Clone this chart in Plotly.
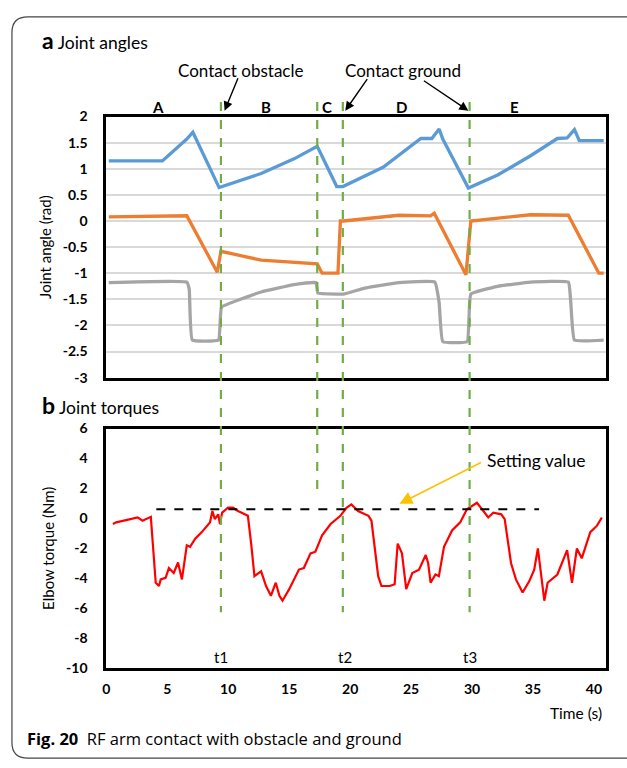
import plotly.graph_objects as go

# ---------------- data ----------------
blue_t = [0.2, 4.6, 6.6, 7.1, 9.25, 12.7, 15.4, 17.3, 18.9, 19.4, 22.7, 24.3, 25.8, 26.7, 27.3, 27.6, 29.7, 32.1, 34.8, 37.0, 37.8, 38.4, 38.8, 40.8]
blue_v = [1.15, 1.15, 1.57, 1.70, 0.64, 0.91, 1.19, 1.43, 0.66, 0.66, 1.03, 1.31, 1.58, 1.58, 1.76, 1.57, 0.63, 0.88, 1.25, 1.58, 1.59, 1.75, 1.54, 1.54]

orange_t = [0.2, 6.6, 9.1, 9.4, 12.7, 17.3, 17.7, 19.0, 19.2, 19.45, 24.0, 26.6, 26.9, 29.5, 29.9, 34.8, 37.9, 40.4, 40.8]
orange_v = [0.08, 0.10, -0.98, -0.58, -0.75, -0.82, -1.0, -1.0, 0.0, 0.0, 0.11, 0.10, 0.15, -1.03, 0.0, 0.12, 0.11, -1.0, -1.0]

gray_t = [0.2, 6.6, 6.8, 7.05, 9.2, 9.45, 11.0, 12.7, 15.4, 17.2, 17.35, 19.0, 19.45, 21.3, 24.0, 26.95, 27.3, 27.6, 29.6, 29.9, 32.1, 34.8, 37.9, 38.1, 38.4, 40.8]
gray_v = [-1.18, -1.17, -1.31, -2.28, -2.28, -1.65, -1.50, -1.36, -1.22, -1.18, -1.38, -1.40, -1.40, -1.28, -1.18, -1.17, -1.56, -2.31, -2.31, -1.40, -1.25, -1.17, -1.17, -1.56, -2.28, -2.28]

torque_t = [0.54, 0.81, 1.62, 2.57, 2.97, 3.65, 4.05, 4.32, 4.46, 4.86, 5.13, 5.53, 5.88, 6.2, 6.6, 6.87, 7.29, 7.83, 8.5, 8.7,
            8.9, 9.18, 9.32, 9.5, 9.98, 10.39, 10.8, 11.61, 11.88, 12.15, 12.7, 13.1, 13.5, 13.9, 14.2, 14.45, 15.0, 15.8, 16.2, 16.75,
            17.15, 17.7, 18.4, 19.2, 19.7, 20.1, 20.65, 21.5, 21.75, 22.3, 22.57, 23.25, 23.65, 23.9, 24.25, 24.6, 25.1, 25.65, 26.2, 26.4,
            26.6, 27.0, 27.28, 27.7, 28.36, 29.03, 29.58, 30.4, 30.93, 31.33, 31.74, 32.4, 32.68, 33.2, 33.6, 34.15, 34.7, 35.1, 35.4, 35.66,
            35.93, 36.2, 37.0, 37.8, 38.2, 38.6, 39.0, 39.7, 40.25, 40.65]
torque_v = [-0.38, -0.27, -0.12, 0.06, -0.16, 0.10, -4.3, -4.52, -4.08, -3.97, -3.32, -3.65, -2.95, -4.08, -1.8, -1.9, -1.36, -0.92, -0.27, 0.49,
            -0.05, 0.27, -0.38, 0.38, 0.71, 0.71, 0.49, 0.17, -1.69, -3.86, -3.54, -4.52, -5.17, -4.3, -5.17, -5.5, -4.73, -3.42, -3.32, -2.34,
            -2.23, -1.14, -0.38, 0.17, 0.71, 0.93, 0.49, 0.17, -0.16, -3.86, -4.52, -4.52, -4.4, -1.69, -2.34, -4.73, -3.65, -3.43, -2.45, -3.0,
            -4.3, -3.75, -3.86, -1.9, -0.81, -0.27, 0.6, 1.04, 0.49, 0.06, 0.38, 0.27, -0.06, -3.0, -4.08, -4.95, -4.19, -3.43, -2.01, -3.65,
            -5.5, -4.3, -3.75, -2.12, -4.3, -2.01, -2.67, -0.92, -0.49, 0.06]

setting_t = [4.1, 35.5]
setting_v = [0.6, 0.6]

events_t = [9.4, 17.3, 19.4, 29.8]
phase_labels = ["A", "B", "C", "D", "E"]
phase_t = [4.2, 13.1, 18.1, 24.2, 33.5]
t_labels = ["t1", "t2", "t3"]
t_label_t = [9.4, 19.6, 29.8]

x_ticks = [0, 5, 10, 15, 20, 25, 30, 35, 40]
angle_ticks = [2, 1.5, 1, 0.5, 0, -0.5, -1, -1.5, -2, -2.5, -3]
torque_ticks = [6, 4, 2, 0, -2, -4, -6, -8, -10]

# ---------------- layout helpers ----------------
W, H = 627, 768
def px(x):
    return x / W
def py(y):
    return 1 - y / H

FONT = "Lato"
fig = go.Figure()

fig.add_trace(go.Scatter(x=blue_t, y=blue_v, mode="lines", line=dict(color="#5B9BD5", width=3.3), xaxis="x", yaxis="y"))
fig.add_trace(go.Scatter(x=orange_t, y=orange_v, mode="lines", line=dict(color="#ED7D31", width=3.3), xaxis="x", yaxis="y"))
fig.add_trace(go.Scatter(x=gray_t, y=gray_v, mode="lines", line=dict(color="#A5A5A5", width=3.3, shape="spline", smoothing=0.3), xaxis="x", yaxis="y"))
fig.add_trace(go.Scatter(x=torque_t, y=torque_v, mode="lines", line=dict(color="#FF0000", width=2.2), xaxis="x2", yaxis="y2"))
fig.add_trace(go.Scatter(x=setting_t, y=setting_v, mode="lines", line=dict(color="black", width=2, dash="dash"), xaxis="x2", yaxis="y2"))

def fmt(v):
    return "%g" % v

xdom = [px(103), px(606)]
fig.update_layout(
    width=W, height=H, margin=dict(l=0, r=0, t=0, b=0),
    paper_bgcolor="white", plot_bgcolor="white", showlegend=False,
    font=dict(family=FONT, color="black"),
    xaxis=dict(domain=xdom, range=[0, 41], showticklabels=False, showgrid=False, zeroline=False,
               showline=True, linecolor="black", linewidth=3, mirror=True, anchor="y"),
    yaxis=dict(domain=[py(377), py(110)], range=[-3, 2], tickvals=angle_ticks, ticktext=[fmt(v) for v in angle_ticks],
               showgrid=True, gridcolor="#D9D9D9", gridwidth=1.5, zeroline=False,
               showline=True, linecolor="black", linewidth=3, mirror=True, anchor="x",
               tickfont=dict(size=14, family=FONT, weight="bold"), ticklabelstandoff=13,
               title=dict(text="Joint angle (rad)", font=dict(size=15, family=FONT), standoff=8)),
    xaxis2=dict(domain=xdom, range=[0, 41], tickvals=x_ticks, ticktext=[fmt(v) for v in x_ticks], showgrid=False, zeroline=False,
                showline=True, linecolor="black", linewidth=3, mirror=True, anchor="y2",
                tickfont=dict(size=14, family=FONT, weight="bold"), ticklabelstandoff=6),
    yaxis2=dict(domain=[py(674), py(429)], range=[-10, 6], tickvals=torque_ticks, ticktext=[fmt(v) for v in torque_ticks],
                showgrid=False, zeroline=False,
                showline=True, linecolor="black", linewidth=3, mirror=True, anchor="x2",
                tickfont=dict(size=14, family=FONT, weight="bold"), ticklabelstandoff=13,
                title=dict(text="Elbow torque (Nm)", font=dict(size=15, family=FONT), standoff=8)),
)

# green event lines
ends = [617, 495, 617, 617]
for t, e in zip(events_t, ends):
    fig.add_shape(type="line", xref="x", yref="paper", x0=t, x1=t, y0=py(95), y1=py(e),
                  line=dict(color="#70AD47", width=2.2, dash="dash"), layer="above")

# outer rounded frame
r = 16
path = (f"M {px(640)},{py(8)} L {px(8 + r)},{py(8)} Q {px(8)},{py(8)} {px(8)},{py(8 + r)} "
        f"L {px(8)},{py(766 - r)} Q {px(8)},{py(766)} {px(8 + r)},{py(766)} L {px(640)},{py(766)}")
fig.add_shape(type="path", xref="paper", yref="paper", path=path, line=dict(color="#444444", width=1.2))

def txt(x, y, text, size, xref="paper", xanchor="center", family=FONT):
    return dict(xref=xref, yref="paper", x=x, y=py(y), xanchor=xanchor, yanchor="middle", showarrow=False,
                text=text, font=dict(size=size, family=family))

ann = []
ann.append(txt(px(36), 32, "<b><span style='font-size:23px'>a</span></b> Joint angles", 17.5, xanchor="left"))
ann.append(txt(px(36), 405, "<b><span style='font-size:23px'>b</span></b> Joint torques", 17.5, xanchor="left"))
for lab, t in zip(phase_labels, phase_t):
    ann.append(txt(t, 100, f"<b>{lab}</b>", 15, xref="x"))
for lab, t in zip(t_labels, t_label_t):
    ann.append(txt(t, 663, lab, 15, xref="x2"))
ann.append(txt(px(238), 63, "Contact obstacle", 17))
ann.append(txt(px(402), 63, "Contact ground", 17))
# arrows
arrow_specs = [(events_t[0] + 0.3, 104, 14, -34), (events_t[2] + 0.2, 104, 23, -33), (events_t[3] - 0.1, 104, -46, -31)]
for t, yy, ax, ay in arrow_specs:
    ann.append(dict(xref="x", yref="paper", x=t, y=py(yy), ax=ax, ay=ay, showarrow=True, text="",
                    arrowhead=2, arrowsize=1.3, arrowwidth=1.4, arrowcolor="black"))
ann.append(txt(px(484), 462, "Setting value", 17.5, xanchor="left"))
ann.append(dict(xref="paper", yref="paper", x=px(398), y=py(506), ax=83, ay=-42, showarrow=True, text="",
                arrowhead=2, arrowsize=1.6, arrowwidth=1.6, arrowcolor="#FFC000"))
ann.append(txt(px(604), 720, "Time (s)", 15.5, xanchor="right"))
ann.append(txt(px(21), 746, "<b>Fig. 20</b>  RF arm contact with obstacle and ground", 16.5, xanchor="left", family="Open Sans"))
fig.update_layout(annotations=ann)

fig.write_html("out.html")
